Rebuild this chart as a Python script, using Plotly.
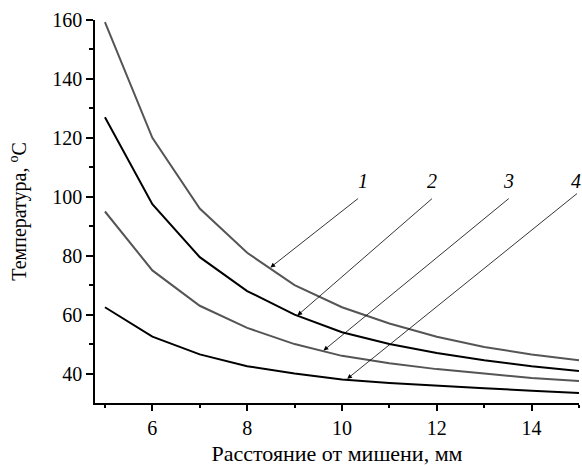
import plotly.graph_objects as go

distance = [5, 6, 7, 8, 9, 10, 11, 12, 13, 14, 15]
curve1 = [159.3, 120, 96, 81, 70, 62.5, 57, 52.5, 49, 46.5, 44.5]
curve2 = [127, 97.5, 79.5, 68, 60, 54, 50, 47, 44.5, 42.5, 40.9]
curve3 = [95, 75, 63, 55.5, 50, 46, 43.5, 41.5, 40, 38.5, 37.5]
curve4 = [62.5, 52.5, 46.5, 42.5, 40, 38, 36.8, 35.8, 35, 34.2, 33.4]
labels = ["1", "2", "3", "4"]
colors = ["#555555", "#000000", "#555555", "#000000"]
# arrow heads (on curves) and tails (near labels), data coords
head_x = [8.49, 9.06, 9.61, 10.11]
head_y = [76, 59.7, 47.8, 38.2]
tail_x = [10.37, 11.93, 13.55, 14.99]
tail_y = [99.8, 99.8, 99.8, 101.5]
label_x = [10.45, 12.05, 13.68, 15.08]
label_y = [105.5, 105.5, 105.5, 105.5]

XMIN, XMAX = 4.79, 15

fig = go.Figure()
for ys, c in zip([curve1, curve2, curve3, curve4], colors):
    fig.add_trace(go.Scatter(x=distance, y=ys, mode="lines",
                             line=dict(color=c, width=2), showlegend=False))

for i in range(4):
    fig.add_annotation(x=head_x[i], y=head_y[i], ax=tail_x[i], ay=tail_y[i],
                       xref="x", yref="y", axref="x", ayref="y",
                       showarrow=True, arrowhead=2, arrowsize=1.2, arrowwidth=0.8,
                       arrowcolor="black", text="")
    fig.add_annotation(x=(label_x[i] - XMIN) / (XMAX - XMIN), y=label_y[i],
                       xref="paper", yref="y",
                       text="<i>" + labels[i] + "</i>", showarrow=False,
                       font=dict(family="Liberation Serif", size=20, color="black"))

serif = "Liberation Serif, Times New Roman, serif"
fig.update_layout(
    width=582, height=466,
    margin=dict(l=95, r=3, t=20, b=63),
    paper_bgcolor="white", plot_bgcolor="white",
    font=dict(family=serif, size=20, color="black"),
    xaxis=dict(range=[XMIN, XMAX], tickvals=[6, 8, 10, 12, 14], ticks="outside",
               ticklen=6, tickwidth=1.5, tickcolor="black", automargin=False,
               tickfont=dict(family=serif, size=20),
               minor=dict(tickvals=[5, 7, 9, 11, 13, 15], ticks="outside", ticklen=3,
                          tickwidth=1.5, tickcolor="black"),
               showline=True, linecolor="black", linewidth=1.5, showgrid=False,
               zeroline=False,
               title=dict(text="Расстояние от мишени, мм", font=dict(family=serif, size=22),
                          standoff=14)),
    yaxis=dict(range=[30, 160], tickvals=[40, 60, 80, 100, 120, 140, 160], ticks="outside",
               ticklen=7, tickwidth=1.5, tickcolor="black", automargin=False,
               tickfont=dict(family=serif, size=20),
               minor=dict(tickvals=[50, 70, 90, 110, 130, 150], ticks="outside", ticklen=4,
                          tickwidth=1.5, tickcolor="black"),
               showline=True, linecolor="black", linewidth=1.5, showgrid=False,
               zeroline=False,
               title=dict(text="Температура, <sup>o</sup>C", font=dict(family=serif, size=20),
                          standoff=20)),
)
fig.write_html("out.html", post_script="document.body.style.margin='0';",
               config={"displayModeBar": False})
